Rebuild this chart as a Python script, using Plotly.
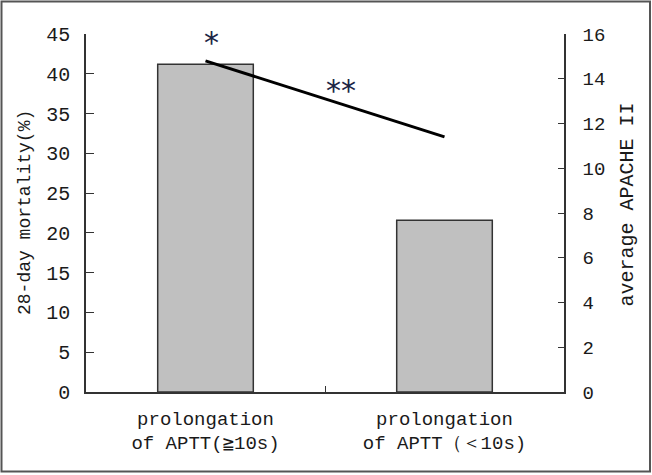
import plotly.graph_objects as go

# data
groups = ["prolongation<br>of APTT(≧10s)", "prolongation<br>of APTT（＜10s)"]
mortality = [41.2, 21.6]
apache = [14.8, 11.4]

W, H = 652, 475
L, R, T, B = 86, 88, 34, 83
pw, ph = W - L - R, H - T - B


def px(x):
    return (x - L) / pw


def py(y):
    return (H - B - y) / ph


mono = "Liberation Mono, Courier New, monospace"
axis_col = "#333333"

fig = go.Figure()

fig.add_trace(go.Bar(
    x=groups, y=mortality, width=0.4,
    marker=dict(color="#c0c0c0", line=dict(color=axis_col, width=1.5)),
    showlegend=False,
))

fig.add_trace(go.Scatter(
    x=groups, y=apache, yaxis="y2", mode="lines",
    line=dict(color="black", width=3),
    showlegend=False,
))

fig.update_layout(
    width=W, height=H,
    margin=dict(l=L, r=R, t=T, b=B),
    paper_bgcolor="white", plot_bgcolor="white",
    font=dict(family=mono, color="#1a1a1a", size=19),
    xaxis=dict(
        type="category", showline=True, linecolor=axis_col, linewidth=1.5,
        ticks="inside", tickson="boundaries", ticklen=6, tickcolor=axis_col,
        showgrid=False, tickfont=dict(size=19, family=mono),
        ticklabelstandoff=8,
    ),
    yaxis=dict(
        range=[0, 45], dtick=5, showline=True, linecolor=axis_col, linewidth=1.5,
        ticks="inside", ticklen=8, tickcolor=axis_col, showgrid=False,
        zeroline=False, tickfont=dict(size=20, family=mono),
        ticklabelstandoff=10,
    ),
    yaxis2=dict(
        range=[0, 16], dtick=2, overlaying="y", side="right", showline=True,
        linecolor=axis_col, linewidth=1.5, ticks="inside", ticklen=6,
        tickcolor=axis_col, showgrid=False, zeroline=False,
        tickfont=dict(size=19, family=mono), ticklabelstandoff=13,
    ),
    bargap=0.6,
)

# axis titles
fig.add_annotation(
    text="28-day mortality(%)", xref="paper", yref="paper",
    x=px(13), y=py(213), textangle=-90, showarrow=False,
    font=dict(size=18, family=mono),
)
fig.add_annotation(
    text="average APACHE II", xref="paper", yref="paper",
    x=px(640), y=py(205), textangle=-90, showarrow=False,
    font=dict(size=20, family=mono),
)

# significance marks
fig.add_annotation(
    text="*", xref="paper", yref="paper", x=px(202), y=py(23),
    showarrow=False, font=dict(size=30, family="DejaVu Sans", color="#1c2545"),
)
fig.add_annotation(
    text="**", xref="paper", yref="paper", x=px(341), y=py(71),
    showarrow=False, font=dict(size=30, family="DejaVu Sans", color="#1c2545"),
)

# outer frame
fig.add_shape(
    type="rect", xref="paper", yref="paper",
    x0=px(1.5), x1=px(650), y0=py(471.5), y1=py(1.5),
    line=dict(color="#555555", width=2),
)

fig.write_html("out.html", config={"displayModeBar": False},
               post_script="document.body.style.margin='0';")
